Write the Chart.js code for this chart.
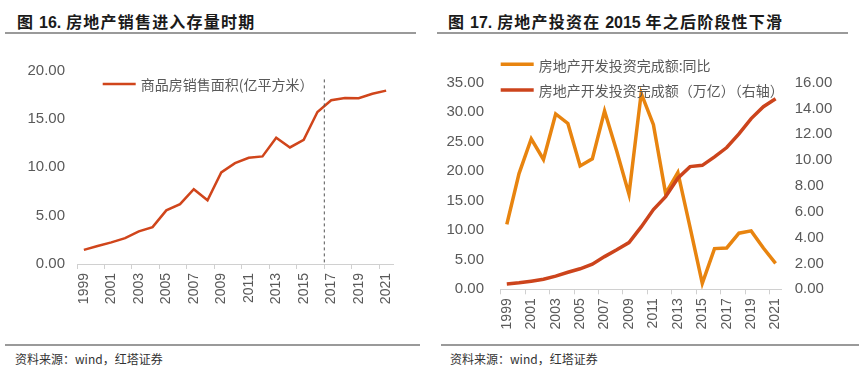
<!DOCTYPE html>
<html>
<head>
<meta charset="utf-8">
<script src="https://cdn.jsdelivr.net/npm/chart.js@4.4.0/dist/chart.umd.min.js"></script>
<style>
  body { margin: 0; width: 865px; height: 372px; background: #fff; position: relative; overflow: hidden; font-family: "Noto Sans CJK SC", sans-serif; }
  .title { position: absolute; top: 11px; line-height: 20px; font-size: 16px; font-weight: bold; color: #1a1a1a; letter-spacing: 1.2px; white-space: nowrap; }
  .title b { font-family: "Liberation Sans", Arial, sans-serif; letter-spacing: 0; }
  .rule { position: absolute; height: 2px; background: #9a9a9a; }
  .src { position: absolute; top: 351px; line-height: 16px; font-size: 12px; color: #333; white-space: nowrap; }
  canvas { position: absolute; top: 40px; }
</style>
</head>
<body>
<div class="title" style="left:17px">图 <b>16.</b> 房地产销售进入存量时期</div>
<div class="rule" style="left:5px; width:411px; top:32px"></div>
<div class="title" style="left:448px">图 <b>17.</b> 房地产投资在 <b>2015</b> 年之后阶段性下滑</div>
<div class="rule" style="left:437px; width:411px; top:32px"></div>

<canvas id="salesChart" width="425" height="300" style="left:0px"></canvas>
<canvas id="investChart" width="435" height="300" style="left:430px"></canvas>

<div class="rule" style="left:5px; width:415px; top:344px"></div>
<div class="rule" style="left:441px; width:418px; top:344px"></div>
<div class="src" style="left:15px">资料来源：wind，红塔证券</div>
<div class="src" style="left:450px">资料来源：wind，红塔证券</div>

<script>
"use strict";

// data
var years = ['1999', '2000', '2001', '2002', '2003', '2004', '2005', '2006', '2007', '2008', '2009', '2010',
  '2011', '2012', '2013', '2014', '2015', '2016', '2017', '2018', '2019', '2020', '2021'];
// 商品房销售面积 (亿平方米)
var salesArea = [1.46, 1.86, 2.24, 2.68, 3.37, 3.82, 5.55, 6.19, 7.74, 6.59, 9.47, 10.43,
  10.99, 11.13, 13.06, 12.06, 12.85, 15.73, 16.94, 17.17, 17.16, 17.61, 17.94];
// 房地产开发投资完成额:同比 (%)
var investYoy = [11.0, 19.6, 25.5, 22.0, 29.7, 28.1, 20.9, 22.1, 30.2, 23.4, 16.1, 33.2,
  27.9, 16.2, 19.8, 10.5, 1.0, 6.9, 7.0, 9.5, 9.9, 7.0, 4.4];
// 房地产开发投资完成额 (万亿)
var investAmount = [0.41, 0.50, 0.63, 0.78, 1.02, 1.32, 1.59, 1.94, 2.53, 3.06, 3.62, 4.83,
  6.18, 7.18, 8.60, 9.50, 9.60, 10.26, 10.98, 12.03, 13.22, 14.14, 14.76];

var salesTicks = [0, 20, 5];     // min, max, step
var yoyTicks = [0, 35, 5];
var amountTicks = [0, 16, 2];

var grey = '#595959';
var axisGrey = '#d0d0d0';
var numFont = { family: '"Liberation Sans", Arial, sans-serif', size: 15 };
var yearFont = { family: '"Liberation Sans", Arial, sans-serif', size: 14 };

// legend drawn inside the plot, like the original
function legendPlugin(items) {
  return {
    id: 'insideLegend',
    afterDraw: function (chart) {
      var ctx = chart.ctx;
      ctx.save();
      items.forEach(function (it) {
        ctx.strokeStyle = it.color;
        ctx.lineWidth = it.width;
        ctx.beginPath();
        ctx.moveTo(it.x, it.y);
        ctx.lineTo(it.x + 33, it.y);
        ctx.stroke();
        ctx.fillStyle = grey;
        ctx.font = '14px "Noto Sans CJK SC"';
        ctx.textBaseline = 'middle';
        ctx.fillText(it.text, it.x + 38, it.y + 1);
      });
      ctx.restore();
    }
  };
}

// dashed divider between 2016 and 2017
var dividerPlugin = {
  id: 'divider',
  afterDatasetsDraw: function (chart) {
    var x = chart.scales.x, y = chart.scales.y;
    var px = (x.getPixelForValue(17) + x.getPixelForValue(18)) / 2;
    var ctx = chart.ctx;
    ctx.save();
    ctx.strokeStyle = '#555';
    ctx.lineWidth = 1;
    ctx.setLineDash([3, 3]);
    ctx.beginPath();
    ctx.moveTo(px, y.getPixelForValue(19.1));
    ctx.lineTo(px, y.bottom);
    ctx.stroke();
    ctx.restore();
  }
};

function yearAxis(height) {
  return {
    offset: true,
    grid: {
      display: true,
      offset: true,
      drawOnChartArea: false,
      drawTicks: true,
      tickLength: 5,
      color: function (c) { return c.index % 2 === 0 ? axisGrey : 'rgba(0,0,0,0)'; }
    },
    border: { display: true, color: axisGrey },
    ticks: {
      autoSkip: false,
      maxRotation: 90,
      minRotation: 90,
      padding: 4,
      color: grey,
      font: yearFont,
      callback: function (v, i) { return i % 2 === 0 ? years[i] : ''; }
    },
    afterFit: function (s) { s.height = height; }
  };
}

function valueAxis(t, pos, width, pad) {
  return {
    position: pos,
    min: t[0],
    max: t[1],
    grid: { display: false, drawTicks: false },
    border: { display: false },
    ticks: {
      stepSize: t[2],
      padding: pad,
      color: grey,
      font: numFont,
      callback: function (v) { return v.toFixed(2); }
    },
    afterFit: function (s) { s.width = width; }
  };
}

var ctx = document.getElementById('salesChart').getContext('2d');
var salesChart = new Chart(ctx, {
  type: 'line',
  data: {
    labels: years,
    datasets: [{
      label: '商品房销售面积(亿平方米）',
      data: salesArea,
      borderColor: '#D0451B',
      borderWidth: 2.5,
      pointRadius: 0,
      tension: 0
    }]
  },
  options: {
    responsive: false,
    animation: false,
    layout: { padding: { top: 30.7, right: 32, bottom: 0, left: 0 } },
    plugins: { legend: { display: false }, tooltip: { enabled: false } },
    scales: {
      x: yearAxis(76),
      y: valueAxis(salesTicks, 'left', 77, 12)
    }
  },
  plugins: [dividerPlugin, legendPlugin([
    { x: 102.7, y: 44, color: '#D0451B', width: 2.5, text: '商品房销售面积(亿平方米）' }
  ])]
});

var ctx2 = document.getElementById('investChart').getContext('2d');
var investChart = new Chart(ctx2, {
  type: 'line',
  data: {
    labels: years,
    datasets: [{
      label: '房地产开发投资完成额:同比',
      data: investYoy,
      borderColor: '#E8840F',
      borderWidth: 3.5,
      pointRadius: 0,
      tension: 0,
      yAxisID: 'y',
      order: 1
    }, {
      label: '房地产开发投资完成额（万亿）（右轴）',
      data: investAmount,
      borderColor: '#CC441C',
      borderWidth: 3.5,
      pointRadius: 0,
      tension: 0,
      yAxisID: 'y1',
      order: 0
    }]
  },
  options: {
    responsive: false,
    animation: false,
    layout: { padding: { top: 42.7, right: 0, bottom: 0, left: 0 } },
    plugins: { legend: { display: false }, tooltip: { enabled: false } },
    scales: {
      x: yearAxis(50.7),
      y: valueAxis(yoyTicks, 'left', 70.7, 16.7),
      y1: valueAxis(amountTicks, 'right', 83.3, 13)
    }
  },
  plugins: [legendPlugin([
    { x: 70.7, y: 24.3, color: '#E8840F', width: 3.5, text: '房地产开发投资完成额:同比' },
    { x: 70.7, y: 50, color: '#CC441C', width: 3.5, text: '房地产开发投资完成额（万亿）（右轴）' }
  ])]
});
</script>
</body>
</html>
